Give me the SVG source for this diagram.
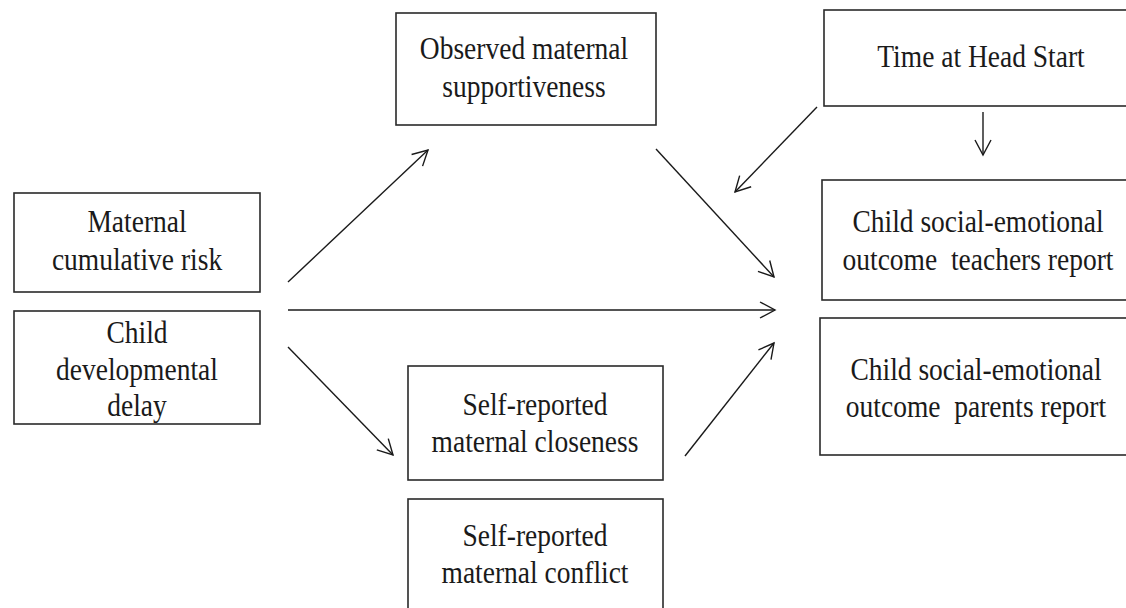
<svg xmlns="http://www.w3.org/2000/svg" width="1126" height="608" viewBox="0 0 1126 608">
  <style>
    .box { fill: #ffffff; stroke: #2a2a2a; stroke-width: 1.6; }
    .lbl { font-family: "Liberation Serif", "Times New Roman", serif; font-size: 27.5px; fill: #1a1a1a; text-anchor: middle; white-space: pre; }
    .edge { fill: none; stroke: #1a1a1a; stroke-width: 1.4; marker-end: url(#open); }
  </style>
  <defs>
    <marker id="open" markerUnits="userSpaceOnUse" markerWidth="20" markerHeight="20" viewBox="0 0 20 20" refX="16" refY="10" orient="auto">
      <path d="M1,2 L16,10 L1,18" fill="none" stroke="#1a1a1a" stroke-width="1.4"/>
    </marker>
  </defs>
  <rect width="1126" height="608" fill="#ffffff"/>

  <!-- labels are set slightly tall: translate to the baseline, then stretch vertically -->
  <g id="maternal-risk">
    <rect class="box" x="14" y="193" width="246" height="99"/>
    <text class="lbl" transform="translate(137 232) scale(1 1.12)">Maternal</text>
    <text class="lbl" transform="translate(137 270) scale(1 1.12)">cumulative risk</text>
  </g>

  <g id="developmental-delay">
    <rect class="box" x="14" y="311" width="246" height="113"/>
    <text class="lbl" transform="translate(137 343) scale(1 1.12)">Child</text>
    <text class="lbl" transform="translate(137 380) scale(1 1.12)">developmental</text>
    <text class="lbl" transform="translate(137 416) scale(1 1.12)">delay</text>
  </g>

  <g id="supportiveness">
    <rect class="box" x="396" y="13" width="260" height="112"/>
    <text class="lbl" transform="translate(524 59) scale(1 1.12)">Observed maternal</text>
    <text class="lbl" transform="translate(524 97) scale(1 1.12)">supportiveness</text>
  </g>

  <g id="head-start">
    <rect class="box" x="824" y="10" width="304" height="96"/>
    <text class="lbl" transform="translate(981 67) scale(1 1.12)">Time at Head Start</text>
  </g>

  <g id="teachers-report">
    <rect class="box" x="822" y="180" width="306" height="120"/>
    <text class="lbl" transform="translate(978 232) scale(1 1.12)">Child social-emotional</text>
    <text class="lbl" transform="translate(978 270) scale(1 1.12)">outcome  teachers report</text>
  </g>

  <g id="parents-report">
    <rect class="box" x="820" y="318" width="308" height="137"/>
    <text class="lbl" transform="translate(976 380) scale(1 1.12)">Child social-emotional</text>
    <text class="lbl" transform="translate(976 417) scale(1 1.12)">outcome  parents report</text>
  </g>

  <g id="closeness">
    <rect class="box" x="408" y="366" width="255" height="114"/>
    <text class="lbl" transform="translate(535 415) scale(1 1.12)">Self-reported</text>
    <text class="lbl" transform="translate(535 452) scale(1 1.12)">maternal closeness</text>
  </g>

  <g id="conflict">
    <rect class="box" x="408" y="499" width="255" height="112"/>
    <text class="lbl" transform="translate(535 546) scale(1 1.12)">Self-reported</text>
    <text class="lbl" transform="translate(535 583) scale(1 1.12)">maternal conflict</text>
  </g>

  <g id="connectors">
    <line class="edge" x1="288" y1="282" x2="428" y2="150"/>
    <line class="edge" x1="288" y1="310" x2="775" y2="310"/>
    <line class="edge" x1="288" y1="347" x2="393" y2="455"/>
    <line class="edge" x1="685" y1="456" x2="774" y2="343"/>
    <line class="edge" x1="656" y1="149" x2="774" y2="277"/>
    <line class="edge" x1="817" y1="107" x2="735" y2="192"/>
    <line class="edge" x1="983" y1="112" x2="983" y2="155"/>
  </g>
</svg>
